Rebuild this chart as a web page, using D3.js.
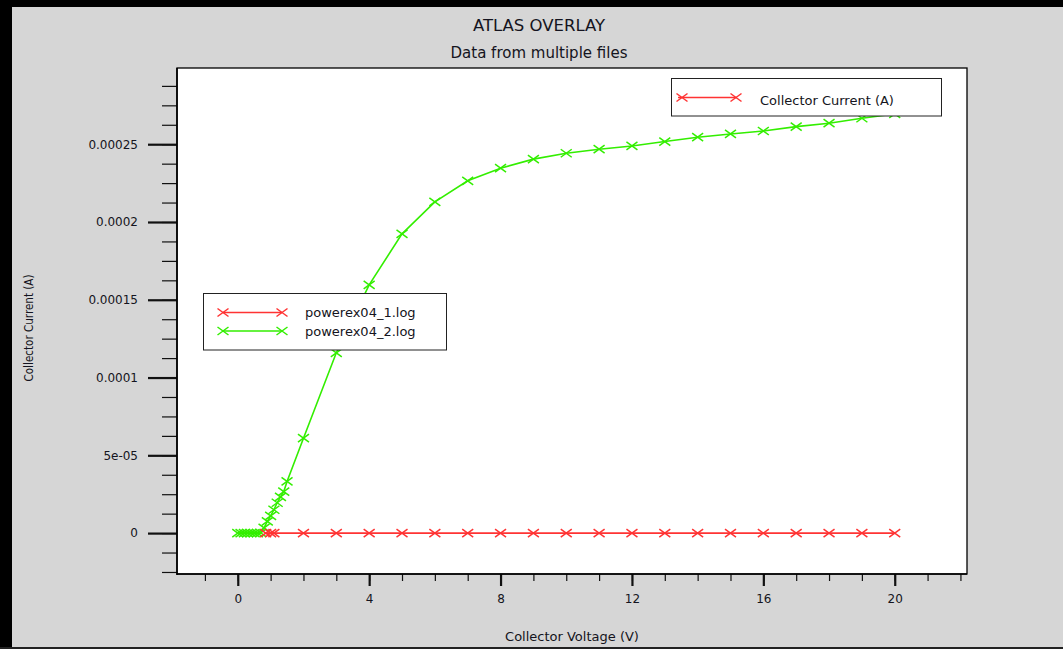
<!DOCTYPE html>
<html>
<head>
<meta charset="utf-8">
<script src="https://cdn.jsdelivr.net/npm/d3@7"></script>
<style>
  html, body { margin: 0; padding: 0; background: #d6d6d6; }
  svg { display: block; }
  text { font-family: "DejaVu Sans", Verdana, sans-serif; fill: #141420; }
</style>
</head>
<body>
<div id="chart"></div>
<script>
// series 1: powerex04_1.log (stays at ~0 A)
var v1 = [0.85, 1.0, 1.1, 2, 3, 4, 5, 6, 7, 8, 9, 10, 11, 12, 13, 14, 15, 16, 17, 18, 19, 20];
var i1 = [0, 0, 0, 0, 0, 0, 0, 0, 0, 0, 0, 0, 0, 0, 0, 0, 0, 0, 0, 0, 0, 0];

// series 2: powerex04_2.log
var v2 = [0, 0.1, 0.2, 0.3, 0.4, 0.5, 0.6, 0.7, 0.8, 0.9, 1.0, 1.1, 1.2, 1.3, 1.4, 1.5,
          2, 3, 4, 5, 6, 7, 8, 9, 10, 11, 12, 13, 14, 15, 16, 17, 18, 19, 20];
var i2 = [0, 0, 0, 0, 0, 0, 0, 0.2e-6, 3.4e-6, 7.5e-6, 1.11e-5, 1.5e-5, 1.95e-5, 2.33e-5, 2.67e-5, 3.32e-5,
          6.1e-5, 1.159e-4, 1.596e-4, 1.924e-4, 2.129e-4, 2.265e-4, 2.346e-4, 2.404e-4, 2.442e-4, 2.468e-4,
          2.489e-4, 2.517e-4, 2.545e-4, 2.566e-4, 2.585e-4, 2.613e-4, 2.635e-4, 2.667e-4, 2.695e-4];

var xMajor = [0, 4, 8, 12, 16, 20];
var xMinor = d3.range(-1, 23, 1);
var yMajor = [0, 5e-5, 1e-4, 1.5e-4, 2e-4, 2.5e-4];
var yMajorLabels = ['0', '5e-05', '0.0001', '0.00015', '0.0002', '0.00025'];
var yMinor = d3.range(-2, 24, 1).map(function (k) { return k * 1.25e-5; });

var seriesNames = ['powerex04_1.log', 'powerex04_2.log'];
var seriesColors = ['#ff3333', '#33ee00'];

var W = 1063, H = 649;
var plot = { left: 177, right: 967, top: 68, bottom: 574 };

var svg = d3.select('#chart').append('svg').attr('width', W).attr('height', H);

svg.append('rect').attr('width', W).attr('height', H).attr('fill', '#d6d6d6');
// dark frame round the window
svg.append('rect').attr('x', 0).attr('y', 0).attr('width', 12).attr('height', H).attr('fill', '#000');
svg.append('rect').attr('x', 0).attr('y', 0).attr('width', W).attr('height', 7).attr('fill', '#000');
svg.append('rect').attr('x', 0).attr('y', H - 2).attr('width', W).attr('height', 2).attr('fill', '#222');

var xScale = d3.scaleLinear().domain([-1.85, 22.2]).range([plot.left, plot.right]);
var yScale = d3.scaleLinear().domain([-2.63e-5, 2.99e-4]).range([plot.bottom, plot.top]);

svg.append('rect')
  .attr('x', plot.left).attr('y', plot.top)
  .attr('width', plot.right - plot.left).attr('height', plot.bottom - plot.top)
  .attr('fill', '#fff').attr('stroke', '#000').attr('stroke-width', 1.3);

// axes: minor then major ticks
var xMinorAxis = d3.axisBottom(xScale).tickValues(xMinor).tickSize(7).tickSizeOuter(0).tickFormat('');
var xMajorAxis = d3.axisBottom(xScale).tickValues(xMajor).tickSize(12).tickSizeOuter(0).tickPadding(8).tickFormat(d3.format('d'));
var yMinorAxis = d3.axisLeft(yScale).tickValues(yMinor).tickSize(15).tickSizeOuter(0).tickFormat('');
var yMajorAxis = d3.axisLeft(yScale).tickValues(yMajor).tickSize(29).tickSizeOuter(0).tickPadding(10)
  .tickFormat(function (d, i) { return yMajorLabels[i]; });

function styleAxis(g, w) {
  g.select('.domain').remove();
  g.selectAll('line').attr('stroke', '#111').attr('stroke-width', w);
  g.selectAll('text').attr('font-size', 12).attr('fill', '#141420');
}

svg.append('g').attr('transform', 'translate(0,' + plot.bottom + ')').call(xMinorAxis).call(styleAxis, 1.2);
svg.append('g').attr('transform', 'translate(0,' + plot.bottom + ')').call(xMajorAxis).call(styleAxis, 2.2);
svg.append('g').attr('transform', 'translate(' + plot.left + ',0)').call(yMinorAxis).call(styleAxis, 1.2);
svg.append('g').attr('transform', 'translate(' + plot.left + ',0)').call(yMajorAxis).call(styleAxis, 2.2);

// plot edges on top of ticks
svg.append('line').attr('x1', plot.left).attr('x2', plot.left).attr('y1', plot.top).attr('y2', plot.bottom + 1)
  .attr('stroke', '#000').attr('stroke-width', 1.6);
svg.append('line').attr('x1', plot.left).attr('x2', plot.right).attr('y1', plot.bottom).attr('y2', plot.bottom)
  .attr('stroke', '#000').attr('stroke-width', 1.6);

// titles
svg.append('text').attr('x', 539).attr('y', 31).attr('text-anchor', 'middle').attr('font-size', 16.5).text('ATLAS OVERLAY');
svg.append('text').attr('x', 539).attr('y', 58).attr('text-anchor', 'middle').attr('font-size', 15).text('Data from multiple files');
svg.append('text').attr('x', 572).attr('y', 641).attr('text-anchor', 'middle').attr('font-size', 13).text('Collector Voltage (V)');
svg.append('text').attr('transform', 'translate(33,328) rotate(-90)').attr('text-anchor', 'middle')
  .attr('font-size', 12).attr('textLength', 107).attr('lengthAdjust', 'spacingAndGlyphs').text('Collector Current (A)');

// series
var line = d3.line().x(function (d) { return xScale(d[0]); }).y(function (d) { return yScale(d[1]); });

function cross(g, cx, cy, color) {
  g.append('path')
    .attr('d', 'M' + (cx - 5.5) + ',' + (cy - 4) + 'L' + (cx + 5.5) + ',' + (cy + 4) +
               'M' + (cx - 5.5) + ',' + (cy + 4) + 'L' + (cx + 5.5) + ',' + (cy - 4))
    .attr('stroke', color).attr('stroke-width', 1.5).attr('fill', 'none');
}

var data = [d3.zip(v1, i1), d3.zip(v2, i2)];
var plotG = svg.append('g');
[1, 0].forEach(function (s) {
  plotG.append('path').datum(data[s]).attr('d', line)
    .attr('fill', 'none').attr('stroke', seriesColors[s]).attr('stroke-width', 1.6);
  data[s].forEach(function (d) { cross(plotG, xScale(d[0]), yScale(d[1]), seriesColors[s]); });
});

// legend: files
var lg = svg.append('g');
lg.append('rect').attr('x', 203.5).attr('y', 293.5).attr('width', 243).attr('height', 56.5)
  .attr('fill', '#fff').attr('stroke', '#222').attr('stroke-width', 1);
seriesNames.forEach(function (name, i) {
  var yy = 312.5 + i * 18.5;
  lg.append('line').attr('x1', 223).attr('x2', 282).attr('y1', yy).attr('y2', yy)
    .attr('stroke', seriesColors[i]).attr('stroke-width', 1.4);
  cross(lg, 223, yy, seriesColors[i]);
  cross(lg, 282, yy, seriesColors[i]);
  lg.append('text').attr('x', 305).attr('y', yy + 4.5).attr('font-size', 13).text(name);
});

// legend: quantity
var lq = svg.append('g');
lq.append('rect').attr('x', 671.5).attr('y', 78.5).attr('width', 270).attr('height', 37.5)
  .attr('fill', '#fff').attr('stroke', '#222').attr('stroke-width', 1);
lq.append('line').attr('x1', 678).attr('x2', 737).attr('y1', 97.5).attr('y2', 97.5)
  .attr('stroke', seriesColors[0]).attr('stroke-width', 1.4);
cross(lq, 682, 97.5, seriesColors[0]);
cross(lq, 736, 97.5, seriesColors[0]);
lq.append('text').attr('x', 760).attr('y', 105).attr('font-size', 13).text('Collector Current (A)');
</script>
</body>
</html>
